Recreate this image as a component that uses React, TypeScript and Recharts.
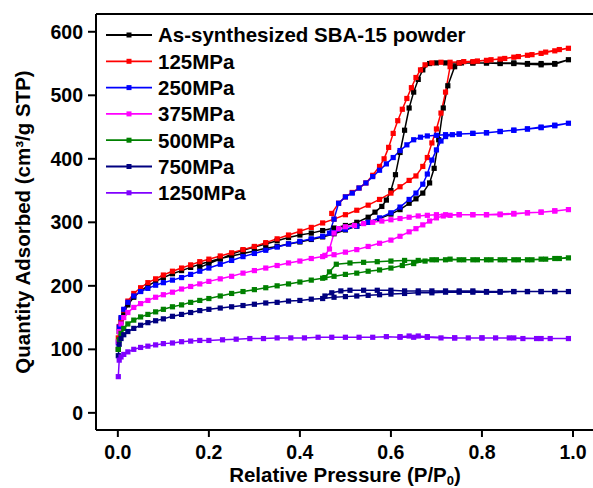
import { LineChart, Line, XAxis, YAxis, Legend, ReferenceLine } from 'recharts'

// As-synthesized SBA-15 powder
const asAdsP = [0.001, 0.003, 0.007, 0.013, 0.022, 0.035, 0.05, 0.066, 0.083, 0.1, 0.12, 0.14, 0.16, 0.18, 0.2, 0.225, 0.25, 0.275, 0.3, 0.325, 0.35, 0.375, 0.4, 0.425, 0.45, 0.475, 0.5, 0.525, 0.55, 0.575, 0.6, 0.62, 0.64, 0.655, 0.67, 0.685, 0.695, 0.705, 0.715, 0.725, 0.74, 0.755, 0.78, 0.81, 0.84, 0.87, 0.9, 0.93, 0.96, 0.99]
const asAdsQ = [100, 128, 143, 157, 170, 182, 192, 200, 207, 213, 219, 224, 229, 234, 238, 243, 247, 251, 255, 259, 262, 266, 269, 273, 277, 282, 288, 294, 300, 306, 313, 320, 330, 337, 346, 362, 385, 430, 480, 515, 545, 551, 551, 551, 550, 550, 549, 548, 549, 556]
const asDesP = [0.96, 0.93, 0.9, 0.87, 0.84, 0.81, 0.78, 0.75, 0.72, 0.7, 0.685, 0.67, 0.66, 0.65, 0.64, 0.63, 0.62, 0.61, 0.6, 0.59, 0.58, 0.565, 0.55, 0.525, 0.5, 0.475, 0.45, 0.425, 0.4, 0.375, 0.35, 0.325, 0.3, 0.275, 0.25, 0.225, 0.2, 0.18]
const asDesQ = [550, 550, 550, 551, 551, 551, 551, 551, 551, 551, 550, 540, 525, 505, 480, 445, 410, 375, 350, 335, 325, 316, 308, 300, 295, 291, 287, 283, 280, 276, 271, 266, 261, 256, 250, 242, 235, 229]

// 125MPa
const r125AdsP = [0.001, 0.003, 0.007, 0.013, 0.022, 0.035, 0.05, 0.066, 0.083, 0.1, 0.12, 0.14, 0.16, 0.18, 0.2, 0.225, 0.25, 0.275, 0.3, 0.325, 0.35, 0.375, 0.4, 0.425, 0.45, 0.475, 0.5, 0.525, 0.55, 0.575, 0.6, 0.62, 0.64, 0.655, 0.67, 0.68, 0.69, 0.7, 0.71, 0.72, 0.73, 0.75, 0.78, 0.81, 0.84, 0.87, 0.9, 0.93, 0.96, 0.99]
const r125AdsQ = [118, 136, 148, 162, 176, 188, 197, 205, 211, 217, 223, 228, 233, 238, 242, 247, 252, 257, 262, 268, 274, 280, 286, 292, 299, 305, 312, 319, 327, 336, 346, 356, 366, 373, 388, 402, 425, 447, 472, 505, 545, 551, 553, 555, 557, 560, 563, 566, 570, 574]
const r125DesP = [0.97, 0.94, 0.91, 0.88, 0.85, 0.82, 0.79, 0.76, 0.73, 0.71, 0.69, 0.675, 0.665, 0.655, 0.645, 0.635, 0.625, 0.615, 0.605, 0.595, 0.585, 0.575, 0.56, 0.545, 0.53, 0.515, 0.5, 0.485, 0.47]
const r125DesQ = [572, 568, 564, 561, 558, 556, 554, 553, 552, 552, 551, 548, 540, 528, 512, 495, 478, 460, 440, 418, 400, 388, 374, 362, 354, 347, 340, 330, 314]

// 250MPa
const b250AdsP = [0.001, 0.003, 0.007, 0.013, 0.022, 0.035, 0.05, 0.066, 0.083, 0.1, 0.12, 0.14, 0.16, 0.18, 0.2, 0.225, 0.25, 0.275, 0.3, 0.325, 0.35, 0.375, 0.4, 0.425, 0.45, 0.475, 0.5, 0.525, 0.55, 0.575, 0.6, 0.62, 0.64, 0.655, 0.67, 0.68, 0.69, 0.7, 0.71, 0.72, 0.735, 0.75, 0.78, 0.81, 0.84, 0.87, 0.9, 0.93, 0.96, 0.99]
const b250AdsQ = [110, 135, 150, 163, 174, 184, 191, 196, 201, 205, 209, 213, 218, 223, 228, 234, 240, 246, 251, 256, 261, 266, 270, 274, 278, 284, 289, 294, 300, 307, 315, 324, 336, 346, 360, 376, 398, 414, 428, 435, 438, 439, 440, 441, 443, 445, 447, 449, 452, 456]
const b250DesP = [0.96, 0.93, 0.9, 0.87, 0.84, 0.81, 0.78, 0.75, 0.72, 0.7, 0.68, 0.665, 0.65, 0.635, 0.62, 0.605, 0.59, 0.575, 0.56, 0.545, 0.53, 0.515, 0.5, 0.485, 0.475, 0.465]
const b250DesQ = [453, 450, 447, 445, 443, 441, 440, 439, 438, 437, 436, 434, 430, 422, 413, 402, 392, 382, 372, 362, 354, 346, 340, 330, 305, 283]

// 375MPa
const m375AdsP = [0.001, 0.003, 0.007, 0.013, 0.022, 0.035, 0.05, 0.066, 0.083, 0.1, 0.12, 0.14, 0.16, 0.18, 0.2, 0.225, 0.25, 0.275, 0.3, 0.325, 0.35, 0.375, 0.4, 0.425, 0.45, 0.475, 0.5, 0.525, 0.55, 0.575, 0.6, 0.62, 0.64, 0.655, 0.67, 0.685, 0.7, 0.715, 0.73, 0.75, 0.78, 0.81, 0.84, 0.87, 0.9, 0.93, 0.96, 0.99]
const m375AdsQ = [112, 128, 140, 150, 158, 166, 172, 177, 182, 186, 190, 195, 199, 203, 207, 211, 215, 220, 224, 228, 232, 236, 239, 243, 246, 249, 253, 257, 262, 267, 272, 278, 285, 290, 296, 302, 307, 310, 311, 312, 312, 312, 313, 314, 315, 316, 318, 320]
const m375DesP = [0.96, 0.93, 0.9, 0.87, 0.84, 0.81, 0.78, 0.75, 0.72, 0.7, 0.68, 0.66, 0.64, 0.62, 0.6, 0.58, 0.56, 0.54, 0.52, 0.5, 0.485, 0.475, 0.465, 0.455]
const m375DesQ = [318, 316, 315, 313, 312, 312, 312, 312, 312, 312, 311, 310, 308, 306, 304, 302, 300, 298, 295, 293, 290, 283, 258, 248]

// 500MPa
const g500AdsP = [0.001, 0.003, 0.007, 0.013, 0.022, 0.035, 0.05, 0.066, 0.083, 0.1, 0.12, 0.14, 0.16, 0.18, 0.2, 0.225, 0.25, 0.275, 0.3, 0.325, 0.35, 0.375, 0.4, 0.425, 0.45, 0.475, 0.5, 0.525, 0.55, 0.575, 0.6, 0.625, 0.65, 0.675, 0.7, 0.73, 0.76, 0.79, 0.82, 0.85, 0.88, 0.91, 0.94, 0.97, 0.99]
const g500AdsQ = [100, 115, 125, 133, 140, 146, 151, 155, 159, 163, 167, 170, 174, 177, 180, 184, 188, 191, 194, 197, 200, 203, 206, 209, 212, 215, 218, 220, 223, 225, 228, 232, 235, 239, 241, 242, 241, 241, 241, 241, 241, 241, 242, 243, 244]
const g500DesP = [0.96, 0.93, 0.9, 0.87, 0.84, 0.81, 0.78, 0.75, 0.72, 0.69, 0.66, 0.63, 0.6, 0.57, 0.54, 0.51, 0.48, 0.465, 0.455]
const g500DesQ = [243, 242, 241, 241, 241, 241, 241, 241, 241, 241, 240, 240, 239, 238, 237, 236, 234, 222, 213]

// 750MPa
const n750AdsP = [0.001, 0.003, 0.007, 0.013, 0.022, 0.035, 0.05, 0.066, 0.083, 0.1, 0.12, 0.14, 0.16, 0.18, 0.2, 0.225, 0.25, 0.275, 0.3, 0.325, 0.35, 0.375, 0.4, 0.425, 0.45, 0.475, 0.5, 0.525, 0.55, 0.575, 0.6, 0.63, 0.66, 0.69, 0.72, 0.75, 0.78, 0.81, 0.84, 0.87, 0.9, 0.93, 0.96, 0.99]
const n750AdsQ = [90, 108, 117, 123, 128, 133, 138, 142, 145, 148, 152, 155, 158, 161, 163, 165, 167, 169, 171, 173, 174, 176, 177, 179, 180, 182, 183, 184, 185, 186, 187, 188, 189, 189, 190, 190, 190, 190, 190, 191, 191, 191, 191, 191]
const n750DesP = [0.96, 0.93, 0.9, 0.87, 0.84, 0.81, 0.78, 0.75, 0.72, 0.69, 0.66, 0.63, 0.6, 0.57, 0.54, 0.51, 0.49, 0.47, 0.455]
const n750DesQ = [191, 191, 191, 191, 191, 191, 192, 192, 192, 192, 192, 192, 193, 193, 193, 193, 192, 189, 184]

// 1250MPa
const v1250AdsP = [0.001, 0.003, 0.007, 0.013, 0.022, 0.035, 0.05, 0.066, 0.083, 0.1, 0.12, 0.14, 0.16, 0.18, 0.2, 0.23, 0.26, 0.29, 0.32, 0.35, 0.38, 0.41, 0.44, 0.47, 0.5, 0.53, 0.56, 0.59, 0.62, 0.65, 0.68, 0.71, 0.74, 0.77, 0.8, 0.83, 0.86, 0.89, 0.92, 0.95, 0.99]
const v1250AdsQ = [57, 83, 88, 92, 96, 100, 103, 105, 107, 109, 110, 112, 113, 114, 114, 115, 116, 117, 117, 118, 118, 118, 119, 119, 119, 119, 119, 120, 119, 119, 119, 118, 118, 118, 118, 118, 118, 117, 117, 117, 117]
const v1250DesP = [0.93, 0.87, 0.8, 0.74, 0.68, 0.66, 0.64, 0.62]
const v1250DesQ = [117, 118, 118, 118, 120, 121, 121, 120]

const seriesNames = ['As-synthesized SBA-15 powder', '125MPa', '250MPa', '375MPa', '500MPa', '750MPa', '1250MPa']
const seriesColors = ['#000000', '#ff0000', '#0000ff', '#ff00ff', '#008000', '#000080', '#8000ff']

const xTicks = [0, 0.2, 0.4, 0.6, 0.8, 1.0]
const yTicks = [0, 100, 200, 300, 400, 500, 600]

const FONT = 'Arial, "Liberation Sans", Helvetica, sans-serif'

// one isotherm = adsorption branch followed by desorption branch
function loop(ap: number[], aq: number[], dp: number[], dq: number[]) {
  const ads = ap.map((x, i) => ({ x, y: aq[i] }))
  const des = dp.map((x, i) => ({ x, y: dq[i] }))
  return [...ads, ...des]
}

const isotherms = [
  loop(asAdsP, asAdsQ, asDesP, asDesQ),
  loop(r125AdsP, r125AdsQ, r125DesP, r125DesQ),
  loop(b250AdsP, b250AdsQ, b250DesP, b250DesQ),
  loop(m375AdsP, m375AdsQ, m375DesP, m375DesQ),
  loop(g500AdsP, g500AdsQ, g500DesP, g500DesQ),
  loop(n750AdsP, n750AdsQ, n750DesP, n750DesQ),
  loop(v1250AdsP, v1250AdsQ, v1250DesP, v1250DesQ),
]

function squareDot(color: string) {
  // eslint-disable-next-line @typescript-eslint/no-explicit-any
  return (props: any) => {
    const { cx, cy, index } = props
    if (cx == null || cy == null) return <g key={index} />
    return <rect key={index} x={cx - 2.6} y={cy - 2.6} width={5.2} height={5.2} fill={color} />
  }
}

function LegendBox() {
  return (
    <svg width={440} height={190} style={{ overflow: 'visible' }}>
      {seriesNames.map((name, i) => {
        const cy = 13 + i * 26.3
        return (
          <g key={name}>
            <line x1={0} x2={46} y1={cy} y2={cy} stroke={seriesColors[i]} strokeWidth={1.8} />
            <rect x={20.5} y={cy - 2.5} width={5} height={5} fill={seriesColors[i]} />
            <text x={52} y={cy + 7.3} fontSize={20.5} fontWeight="bold" fontFamily={FONT} fill="#000">
              {name}
            </text>
          </g>
        )
      })}
    </svg>
  )
}

function YTitle() {
  return (
    <text
      x={22}
      y={222}
      transform="rotate(-90, 22, 222)"
      textAnchor="middle"
      dominantBaseline="central"
      fontSize={20.5}
      fontWeight="bold"
      fontFamily={FONT}
      fill="#000"
    >
      Quantity Adsorbed (cm³/g STP)
    </text>
  )
}

function XTitle() {
  return (
    <text x={345} y={482} textAnchor="middle" fontSize={20.5} fontWeight="bold" fontFamily={FONT} fill="#000">
      Relative Pressure (P/P
      <tspan fontSize={13} dy={3}>0</tspan>
      <tspan dy={-3}>)</tspan>
    </text>
  )
}

export default function App() {
  const tickStyle = { fill: '#000', fontSize: 19.5, fontWeight: 'bold', fontFamily: FONT }
  return (
    <div style={{ position: 'absolute', left: 0, top: 0, width: 593, height: 488, background: '#fff' }}>
      <LineChart width={593} height={488} margin={{ top: 14, right: 0, bottom: 0, left: 0 }}>
        <XAxis
          type="number"
          dataKey="x"
          domain={[-0.048, 1.044]}
          allowDataOverflow
          ticks={xTicks}
          tickFormatter={(v: number) => v.toFixed(1)}
          tick={tickStyle}
          tickSize={7}
          tickMargin={8}
          axisLine={{ stroke: '#000', strokeWidth: 2 }}
          tickLine={{ stroke: '#000', strokeWidth: 2 }}
          height={58}
          label={<XTitle />}
        />
        <YAxis
          type="number"
          domain={[-27, 628]}
          allowDataOverflow
          ticks={yTicks}
          tick={tickStyle}
          tickSize={8}
          tickMargin={5}
          axisLine={{ stroke: '#000', strokeWidth: 2 }}
          tickLine={{ stroke: '#000', strokeWidth: 2 }}
          width={96}
          label={<YTitle />}
        />
        <ReferenceLine y={628} stroke="#000" strokeWidth={2} />
        {isotherms.map((pts, i) => (
          <Line
            key={seriesNames[i]}
            data={pts}
            dataKey="y"
            type="linear"
            stroke={seriesColors[i]}
            strokeWidth={1.5}
            dot={squareDot(seriesColors[i])}
            activeDot={false}
            isAnimationActive={false}
          />
        ))}
        <Legend
          layout="horizontal"
          verticalAlign="middle"
          align="center"
          content={() => <LegendBox />}
          wrapperStyle={{ position: 'absolute', left: 106, top: 22, width: 440, height: 190 }}
        />
      </LineChart>
    </div>
  )
}
